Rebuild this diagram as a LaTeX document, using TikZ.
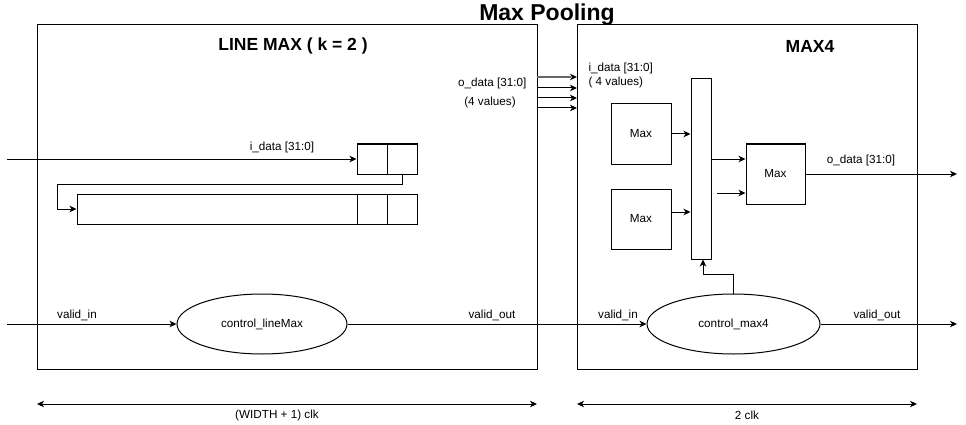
\documentclass[tikz,border=0pt]{standalone}
\usepackage{fontspec}
\setmainfont{Liberation Sans}
\usetikzlibrary{shapes.geometric,arrows.meta,calc}
\begin{document}
\begin{tikzpicture}[x=1pt,y=-1pt,line width=1pt,
  box/.style={draw,rectangle,inner sep=0pt,anchor=center},
  lbl/.style={inner sep=0pt,font=\fontsize{11.7}{13}\selectfont},
  ttl/.style={inner sep=0pt,font=\fontsize{17.5}{20}\selectfont\bfseries},
  ctrl/.style={draw,ellipse,inner sep=0pt,minimum height=60pt,font=\fontsize{11.7}{13}\selectfont},
  arr/.style={-{Stealth[length=7pt,width=6.5pt,inset=2pt]}},
  dim/.style={{Stealth[length=7pt,width=6.5pt,inset=2pt]}-{Stealth[length=7pt,width=6.5pt,inset=2pt]}}]
\useasboundingbox (0,0) rectangle (966,425);
% title
\node[inner sep=0pt,font=\fontsize{23}{26}\selectfont\bfseries] (title) at (547,15) {Max Pooling};
% big boxes
\node[box,minimum width=500pt,minimum height=344pt] (lbox) at (287,197) {};
\node[box,minimum width=340pt,minimum height=344pt] (rbox) at (747,197) {};
\node[ttl] (ltitle) at (293,46) {LINE MAX ( k = 2 )};
\node[ttl] (rtitle) at (810,46) {MAX4};
% registers
\node[box,minimum width=30pt,minimum height=30pt] (sr1) at (372,159) {};
\node[box,minimum width=30pt,minimum height=30pt] (sr2) at (402,159) {};
\node[box,minimum width=280pt,minimum height=30pt] (lr0) at (217,209) {};
\node[box,minimum width=30pt,minimum height=30pt] (lr1) at (372,209) {};
\node[box,minimum width=30pt,minimum height=30pt] (lr2) at (402,209) {};
\coordinate (din) at (7,159);
\draw[arr] (din) -- (sr1.west);
\node[lbl] (idl) at (282,147) {i\_data [31:0]};
\coordinate (fbL) at (57,184);
\draw[arr] (sr2.south) |- (fbL) |- (lr0.west);
% o_data lines
\foreach \i/\y in {1/77,2/88,3/98,4/108}{
  \coordinate (o\i) at (537,\y);
  \coordinate (i\i) at (577,\y);
}
\draw[line width=1.4pt,gray!80!black] (o1) -- ($(i1)+(-6,0)$);
\fill ($(i1)$) -- ($(i1)+(-7,-3.25)$) -- ($(i1)+(-5,0)$) -- ($(i1)+(-7,3.25)$) -- cycle;
\draw[arr] (o2) -- (i2);
\draw[arr] (o3) -- (i3);
\draw[arr] (o4) -- (i4);
\node[lbl,anchor=east] (odl) at (527,83) {o\_data [31:0]};
\node[lbl] (odv) at (490,102) {(4 values)};
\node[lbl,anchor=west] (idr) at (588,68) {i\_data [31:0]};
\node[lbl,anchor=west] (idv) at (588,82) {( 4 values)};
% MAX4 internals
\node[box,minimum width=20pt,minimum height=180pt] (bar) at (701,169) {};
\node[box,minimum width=60pt,minimum height=60pt,font=\fontsize{11.7}{13}\selectfont] (max1) at (641,134) {Max};
\node[box,minimum width=60pt,minimum height=60pt,font=\fontsize{11.7}{13}\selectfont] (max2) at (641,219) {Max};
\node[box,minimum width=59pt,minimum height=60pt,font=\fontsize{11.7}{13}\selectfont] (max3) at (775.5,174) {Max};
\draw[arr] (max1.east) -- (max1.east -| bar.west);
\coordinate (m2o) at (671,212);
\draw[arr] (m2o) -- (m2o -| bar.west);
\coordinate (b1) at (711,159);
\draw[arr] (b1) -- (b1 -| max3.west);
\coordinate (b2) at (717,193);
\draw[arr] (b2) -- (b2 -| max3.west);
\coordinate (dout) at (957,174);
\draw[arr] (max3.east) -- (max3.east -| dout);
\node[lbl] (odr) at (861,160) {o\_data [31:0]};
% control
\node[ctrl,minimum width=170pt] (c1) at (262,324) {control\_lineMax};
\node[ctrl,minimum width=173pt] (c2) at (733.5,324) {control\_max4};
\coordinate (vin) at (7,324);
\draw[arr] (vin) -- (c1.west);
\draw[arr] (c1.east) -- (c2.west);
\coordinate (vout) at (957,324);
\draw[arr] (c2.east) -- (vout);
\node[lbl] (vi1) at (77,315) {valid\_in};
\node[lbl] (vo1) at (492,315) {valid\_out};
\node[lbl] (vi2) at (618,315) {valid\_in};
\node[lbl] (vo2) at (877,315) {valid\_out};
\coordinate (cc) at (703,274);
\draw[arr] (c2.north) |- (cc) -- (cc |- bar.south);
% dimensions
\coordinate (d1a) at (37,404);
\coordinate (d1b) at (537,404);
\coordinate (d2a) at (577,404);
\coordinate (d2b) at (917,404);
\draw[dim] (d1a) -- (d1b);
\draw[dim] (d2a) -- (d2b);
\node[lbl] (w1) at (277,415) {(WIDTH + 1) clk};
\node[lbl] (w2) at (747,415) {2 clk};
\end{tikzpicture}
\end{document}
